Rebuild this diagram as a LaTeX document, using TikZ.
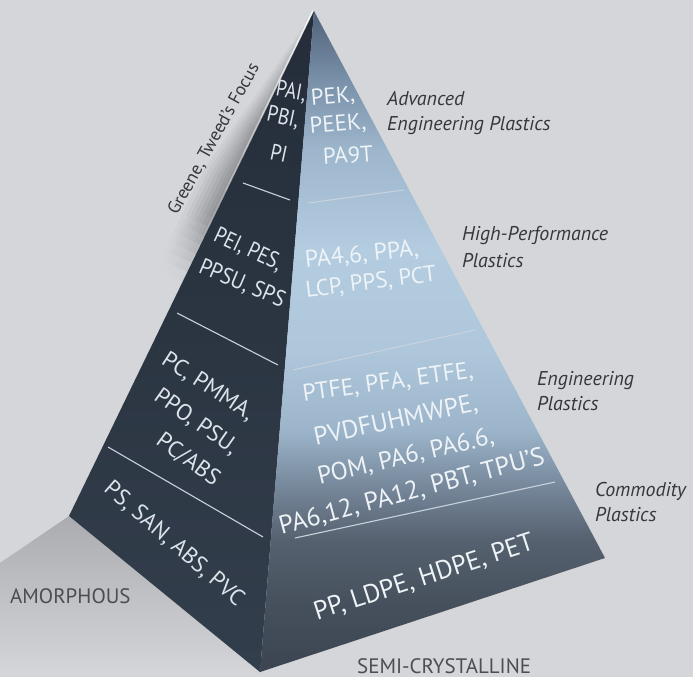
\documentclass[tikz,border=0pt]{standalone}
\usepackage{fontspec}
\setmainfont{PT Sans}

% palette
\definecolor{bg}{HTML}{D4D6D9}
\definecolor{bandgrey}{HTML}{939599}
\definecolor{shadowgrey}{HTML}{ABACAF}
\definecolor{lefttop}{HTML}{242D39}
\definecolor{leftbot}{HTML}{333E4C}
\definecolor{rf0}{HTML}{51627A}
\definecolor{rf1}{HTML}{7890A8}
\definecolor{rf2}{HTML}{9DB6CC}
\definecolor{rf3}{HTML}{B3CCE0}
\definecolor{rf4}{HTML}{AEC7DB}
\definecolor{rf5}{HTML}{9CB5CA}
\definecolor{rf6}{HTML}{7A8CA0}
\definecolor{rf7}{HTML}{56616F}
\definecolor{rf8}{HTML}{47515E}
\definecolor{rf9}{HTML}{3B4450}
\definecolor{septone}{HTML}{C8D2DC}
\definecolor{facetext}{HTML}{EEF3F7}
\definecolor{lefttext}{HTML}{DCE3EA}
\definecolor{labtext}{HTML}{36373A}
\definecolor{captext}{HTML}{4B4D51}

% light-blue face, dark at the apex and at the base
\pgfdeclareverticalshading{rightface}{100bp}{%
  color(0bp)=(rf9); color(25bp)=(rf9); color(30.4bp)=(rf8); color(35bp)=(rf7);
  color(39.5bp)=(rf6); color(43.3bp)=(rf5); color(49.4bp)=(rf4); color(56.9bp)=(rf3);
  color(64.5bp)=(rf2); color(69.8bp)=(rf1); color(75bp)=(rf0); color(100bp)=(rf0)}

\begin{document}
\begin{tikzpicture}[x=1bp, y=-1bp,
  lface/.style={text=lefttext, font=\fontsize{23}{27}\selectfont, inner sep=0pt},
  rface/.style={text=facetext, font=\fontsize{23}{27}\selectfont, inner sep=0pt},
  plabel/.style={text=labtext, font=\fontsize{20}{24}\selectfont\itshape, inner sep=0pt, anchor=base west},
  axislabel/.style={text=captext, font=\fontsize{21}{25}\selectfont, inner sep=0pt, anchor=base west},
  sepline/.style={draw=septone, line width=1.1bp}]

\useasboundingbox (0,0) rectangle (693,677);
\fill[bg] (0,0) rectangle (693,677);

% pyramid corners
\coordinate (apex) at (314,11);
\coordinate (bl) at (69,516);
\coordinate (bf) at (260,672);
\coordinate (br) at (605,558);

% soft grey band along the upper left edge: u runs down the edge, v outwards
\foreach \u in {10,20,...,290} {
  \pgfmathsetmacro\ub{\u+10.6}
  \pgfmathsetmacro\fa{35+(\u-10)/120*65}
  \pgfmathsetmacro\fc{max(0,100-(\u-225)/70*100)}
  \pgfmathsetmacro\f{(\u<130) ? \fa : ((\u<225) ? 100 : \fc)}
  \pgfmathsetmacro\wa{min(29, 2+(\u-10)/180*27)}
  \pgfmathsetmacro\wb{min(29, 2+\u/180*27)}
  \foreach \k in {0,1,2,3,4,5,6,7} {
    \pgfmathsetmacro\va{\k/8}
    \pgfmathsetmacro\vb{(\k+1.15)/8}
    \pgfmathtruncatemacro\g{\f*(1-\k/8)}
    \fill[bandgrey!\g!bg]
      ({314-0.437*\u-0.9*\va*\wa},{11+0.9*\u-0.437*\va*\wa}) --
      ({314-0.437*\ub-0.9*\va*\wb},{11+0.9*\ub-0.437*\va*\wb}) --
      ({314-0.437*\ub-0.9*\vb*\wb},{11+0.9*\ub-0.437*\vb*\wb}) --
      ({314-0.437*\u-0.9*\vb*\wa},{11+0.9*\u-0.437*\vb*\wa}) -- cycle;
  }
}
% thin highlight just outside the edge
\foreach \u/\o in {0/0.75,40/0.65,80/0.55,120/0.45,160/0.32,200/0.2,240/0.08} {
  \draw[white, opacity=\o, line width=1.4bp]
    ({314-0.437*\u-0.9*1.2},{11+0.9*\u-0.437*1.2}) --
    ({314-0.437*(\u+40)-0.9*1.2},{11+0.9*(\u+40)-0.437*1.2});
}

% shadow cast at the lower left
\shade[top color=shadowgrey, bottom color=bg]
  (bl) -- (0,563) -- (0,677) -- (262,677) -- (bf) -- cycle;

% faces
\shade[top color=lefttop, bottom color=leftbot] (apex) -- (bl) -- (bf) -- cycle;
\shade[shading=rightface] (apex) -- (bf) -- (br) -- cycle;

% tier separators, amorphous side
\draw[sepline] (243,183) -- (290,200);
\draw[sepline] (177,313) -- (278,365);
\draw[sepline] (108,447) -- (263,537);
% tier separators, semi-crystalline side
\draw[sepline] (308,203) -- (404,190);
\draw[sepline] (293,370) -- (475,330);
\draw[sepline] (295,538) -- (555,482);

% amorphous polymers
\node[lface, rotate=-10, xscale=0.82] (pai) at (291,92) {PAI,};
\node[lface, rotate=-12, xscale=0.85] (pbi) at (283,118) {PBI,};
\node[lface, rotate=-12, xscale=0.85] (pi) at (279,153) {PI};
\node[lface, rotate=-25, xscale=0.85] (pei) at (248,250) {PEI, PES,};
\node[lface, rotate=-23, xscale=0.9] (ppsu) at (242,284) {PPSU, SPS};
\node[lface, rotate=-33] (pc) at (208,387) {PC, PMMA,};
\node[lface, rotate=-35] (ppo) at (196,422) {PPO, PSU,};
\node[lface, rotate=-36] (pcabs) at (188,460) {PC/ABS};
\node[lface, rotate=-41] (ps) at (174,544) {PS, SAN, ABS, PVC};

% semi-crystalline polymers
\node[rface, rotate=5] (pek) at (333,97) {PEK,};
\node[rface, rotate=5] (peek) at (338,125) {PEEK,};
\node[rface, rotate=4] (pa9t) at (348,155) {PA9T};
\node[rface, rotate=6, font=\fontsize{24}{28}\selectfont] (pa46) at (362,255) {PA4,6, PPA,};
\node[rface, rotate=7] (lcp) at (371,283) {LCP, PPS, PCT};
\node[rface, rotate=8, font=\fontsize{24}{28}\selectfont] (ptfe) at (388,383) {PTFE, PFA, ETFE,};
\node[rface, rotate=12, font=\fontsize{25.5}{30}\selectfont] (pvdf) at (396,421) {PVDFUHMWPE,};
\node[rface, rotate=13, font=\fontsize{25}{30}\selectfont] (pom) at (406,457) {POM, PA6, PA6.6,};
\node[rface, rotate=15, font=\fontsize{25.8}{30}\selectfont] (pa612) at (412,492) {PA6,12, PA12, PBT, TPU'S};
\node[rface, rotate=18, font=\fontsize{26.2}{30}\selectfont] (pp) at (424,578) {PP, LDPE, HDPE, PET};

% tier names
\node[plabel] (adv1) at (387,106) {Advanced};
\node[plabel] (adv2) at (387,131) {Engineering Plastics};
\node[plabel] (hp1) at (462,240) {High-Performance};
\node[plabel] (hp2) at (462,267) {Plastics};
\node[plabel] (eng1) at (537,385) {Engineering};
\node[plabel] (eng2) at (537,410) {Plastics};
\node[plabel] (com1) at (595,496) {Commodity};
\node[plabel] (com2) at (595,521) {Plastics};

% side names
\node[axislabel] (amor) at (10,603) {AMORPHOUS};
\node[axislabel] (semi) at (357,673) {SEMI-CRYSTALLINE};
\node[text=labtext, font=\fontsize{18}{22}\selectfont, inner sep=0pt, rotate=61] (focus) at (214,139) {Greene, Tweed's Focus};

\end{tikzpicture}
\end{document}
